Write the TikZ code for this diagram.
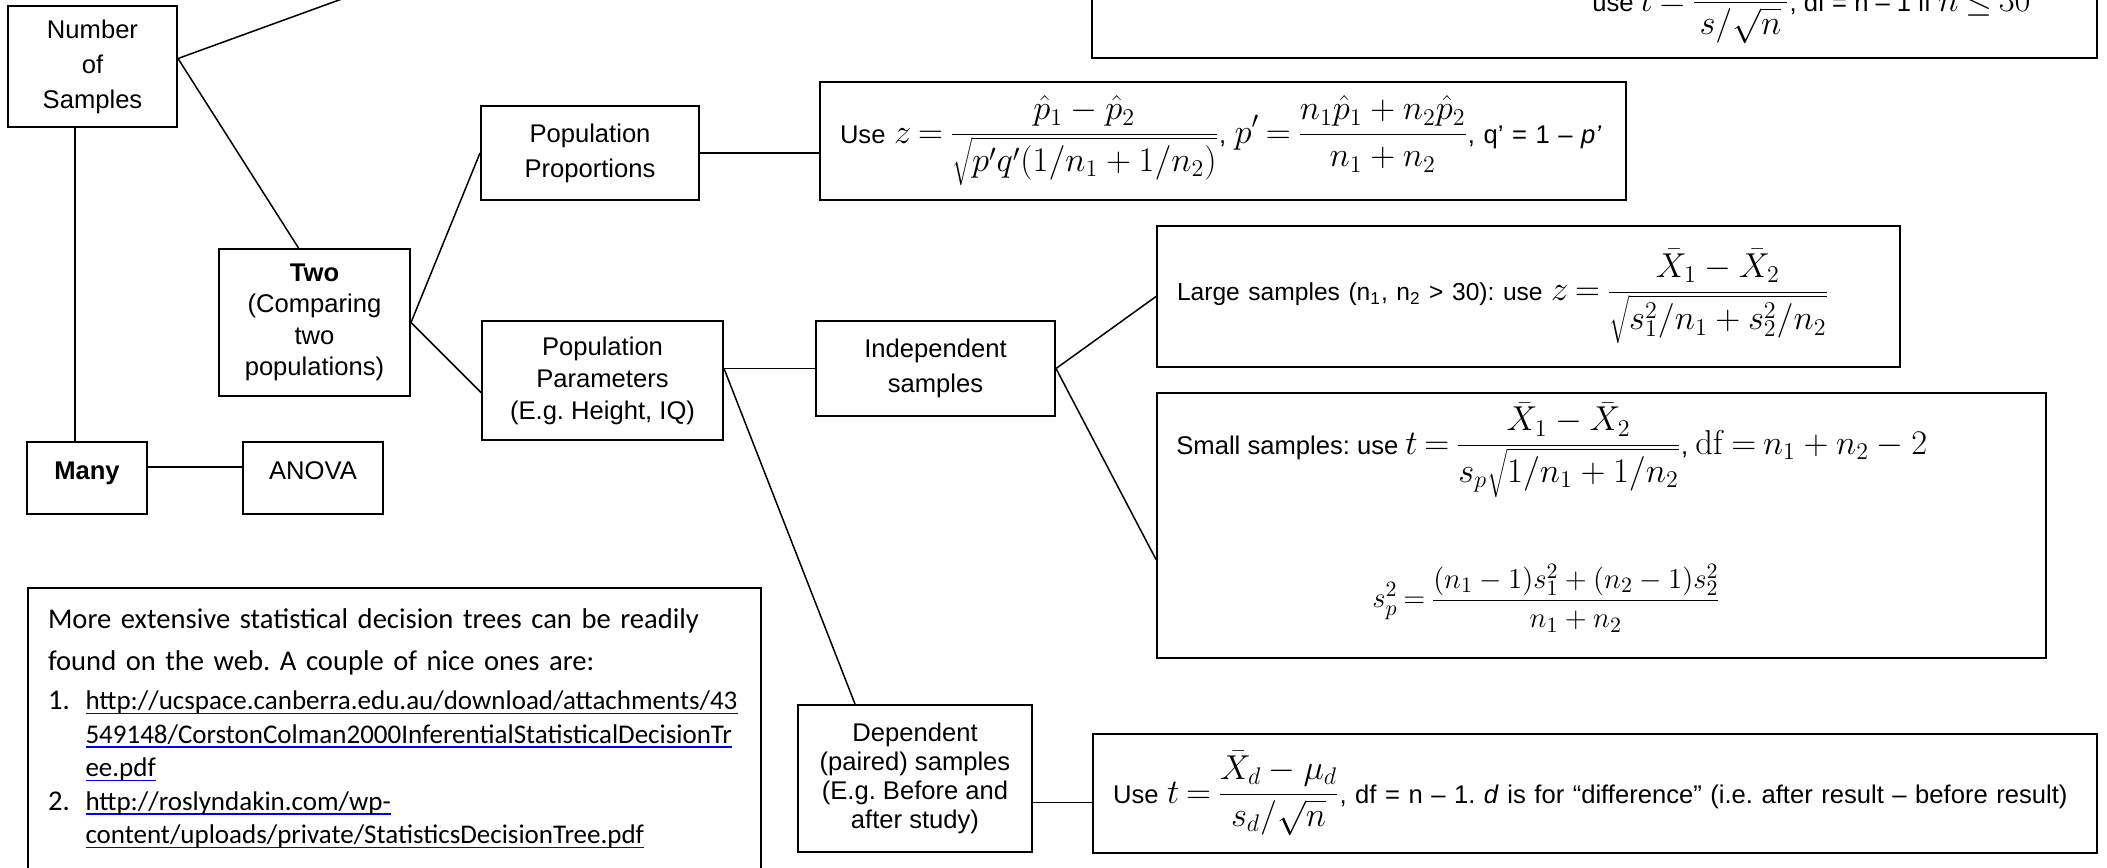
\documentclass[tikz,border=0pt]{standalone}
\usepackage[no-math]{fontspec}
\setmainfont{Liberation Sans}
\newfontfamily\calibri{Carlito}
\usepackage{xcolor}
\definecolor{ink}{HTML}{000000}
\definecolor{linkblue}{HTML}{0000FF}
\frenchspacing
\tikzset{
  box/.style={draw=ink, line width=1pt, inner sep=0pt, align=center, font=\fontsize{12.8}{17.5}\selectfont},
  fbox/.style={box, inner xsep=10pt, align=left, anchor=west},
  wire/.style={draw=ink, line width=0.75pt},
  txt/.style={inner sep=0pt, font=\fontsize{12.8}{17.5}\selectfont},
}
\newcommand{\fm}[2][16.5]{{\fontsize{#1}{19}\selectfont\thickmuskip=3.5mu$\displaystyle #2$}}
\newsavebox\linkbox
\newcommand{\ulink}[1]{\sbox\linkbox{\fontsize{13.5}{16.75}\selectfont#1}{\color{linkblue}\rlap{\rule[-2.2pt]{\wd\linkbox}{0.6pt}}\usebox\linkbox}}

\begin{document}
\begin{tikzpicture}[x=0.5pt, y=-0.5pt]
  \useasboundingbox (0,0) rectangle (2107,867);
  \clip (0,0) rectangle (2107,867);

  % left column
  \node[box, minimum width=84.5pt, minimum height=60.5pt] (num) at (92.5,66.5) {Number\\of\\Samples};
  \node[box, minimum width=95.5pt, minimum height=73.5pt, font=\fontsize{12.8}{15.7}\selectfont] (two) at (314.5,322.5) {\textbf{Two}\\(Comparing\\two\\populations)};
  \node[box, minimum width=60pt, minimum height=36pt, text height=9.5pt, text depth=8.5pt] (many) at (87,478) {\textbf{Many}};
  \node[box, minimum width=70pt, minimum height=36pt, text height=9.5pt, text depth=8.5pt] (anova) at (313,478) {ANOVA};

  % two populations
  \node[box, minimum width=109pt, minimum height=47pt] (pprop) at (590,153) {Population\\Proportions};
  \node[box, minimum width=120.5pt, minimum height=59.5pt, font=\fontsize{12.8}{16}\selectfont] (pparam) at (602.5,380.5) {Population\\Parameters\\(E.g. Height, IQ)};
  \node[box, minimum width=119.5pt, minimum height=47.5pt] (indep) at (935.5,368.5) {Independent\\samples};
  \node[box, minimum width=117pt, minimum height=73.5pt, font=\fontsize{12.8}{14.5}\selectfont] (dep) at (915,778.5) {Dependent\\(paired) samples\\(E.g. Before and\\after study)};

  % formula boxes
  \node[box, minimum width=502.5pt, minimum height=100pt, anchor=south west] (ftop) at (1091,59) {};
  \node[txt, anchor=base west] (ftopt) at (1592,11) {use \fm{t=\frac{\bar{X}-\mu}{s/\sqrt{n}}}, df = n – 1 if \fm{n\le 30}};
  \node[fbox, text width=383pt, minimum height=59pt] (fprop) at (819,141) {\mbox{Use \fm{z=\frac{\hat{p}_1-\hat{p}_2}{\sqrt{p'q'(1/n_1+1/n_2)}}}, \fm{p'=\frac{n_1\hat{p}_1+n_2\hat{p}_2}{n_1+n_2}}, q' = 1 – \textit{p'}}};
  \node[fbox, text width=351.5pt, minimum height=70.5pt] (flarge) at (1156,296.5) {\mbox{\fontsize{12.3}{15}\selectfont Large samples (n\textsubscript{1}, n\textsubscript{2} > 30): use \fm{z=\frac{\bar{X}_1-\bar{X}_2}{\sqrt{s_1^2/n_1+s_2^2/n_2}}}}};
  \node[box, minimum width=444.5pt, minimum height=132.5pt, anchor=north west] (fsmall) at (1156,392) {};
  \node[txt, anchor=west] (fsmallA) at (1176,450) {Small samples: use \fm{t=\frac{\bar{X}_1-\bar{X}_2}{s_p\sqrt{1/n_1+1/n_2}}}, \fm{\mathrm{df}=n_1+n_2-2}};
  \node[txt, anchor=west] (fsmallB) at (1372,598) {\fm[15]{s_p^2=\frac{(n_1-1)s_1^2+(n_2-1)s_2^2}{n_1+n_2}}};
  \node[fbox, text width=482pt, minimum height=59.5pt] (fdep) at (1092,793.5) {\mbox{Use \fm{t=\frac{\bar{X}_d-\mu_d}{s_d/\sqrt{n}}}, df = n – 1. \textit{d} is for “difference” (i.e. after result – before result)}};

  % note with links
  \node[draw=ink, line width=1pt, anchor=north west, inner xsep=10pt, inner ysep=10.5pt, text width=346.5pt, align=left, font=\calibri\fontsize{14.3}{16.75}\selectfont] (info) at (27,587) {More extensive statistical decision trees can be readily\\[4.3pt]
found on the web. A couple of nice ones are:\\[2.6pt]
\makebox[18.75pt][l]{1.}\ulink{http://ucspace.canberra.edu.au/download/attachments/43}\\
\hspace*{18.75pt}\ulink{549148/CorstonColman2000InferentialStatisticalDecisionTr}\\
\hspace*{18.75pt}\ulink{ee.pdf}\\
\makebox[18.75pt][l]{2.}\ulink{http://roslyndakin.com/wp-}\\
\hspace*{18.75pt}\ulink{content/uploads/private/StatisticsDecisionTree.pdf}\rule[-40pt]{0pt}{0pt}};

  % connectors
  \coordinate (numR) at ([yshift=4pt]num.east);
  \coordinate (oneStub) at (496,-57);
  \draw[wire] (numR) -- (oneStub);
  \draw[wire] (numR) -- ([xshift=-8pt]two.north);
  \draw[wire] ([xshift=-8.75pt]num.south) -- ([xshift=-8.75pt]num.south |- many.north);
  \draw[wire] ([yshift=5.5pt]many.east) -- ([yshift=5.5pt]anova.west);
  \draw[wire] (two.east) -- (pprop.west);
  \draw[wire] (two.east) -- ([yshift=-6pt]pparam.west);
  \draw[wire] (pprop.east) -- (pprop.east -| fprop.west);
  \coordinate (ppR) at ([yshift=6pt]pparam.east);
  \draw[wire] (ppR) -- (ppR -| indep.west);
  \draw[wire] (ppR) -- ([xshift=-30pt]dep.north);
  \draw[wire] (indep.east) -- (flarge.west);
  \draw[wire] (indep.east) -- ([yshift=-17pt]fsmall.west);
  \draw[wire] ([yshift=-12pt]dep.east) -- ([yshift=-12pt]dep.east -| fdep.west);
\end{tikzpicture}
\end{document}
